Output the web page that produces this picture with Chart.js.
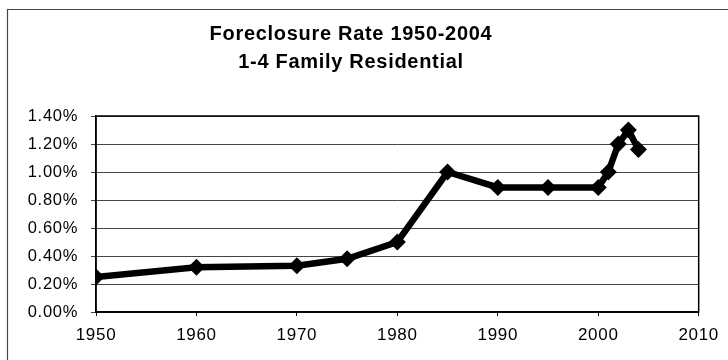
<!DOCTYPE html>
<html>
<head>
<meta charset="utf-8">
<script src="https://cdn.jsdelivr.net/npm/chart.js@4"></script>
<style>
  body { margin: 0; background: #fff; }
  canvas { display: block; }
</style>
</head>
<body>
<canvas id="foreclosureChart" width="728" height="360"></canvas>
<script>
// foreclosure rate, 1-4 family residential (percent)
const years = [1950, 1960, 1970, 1975, 1980, 1985, 1990, 1995, 2000, 2001, 2002, 2003, 2004];
const rates = [0.25, 0.32, 0.33, 0.38, 0.50, 1.00, 0.89, 0.89, 0.89, 1.00, 1.20, 1.30, 1.16];
const titleLines = ['Foreclosure Rate 1950-2004', '1-4 Family Residential'];

// spread the glyphs a little, the way the old spreadsheet export did
const spacing = {
    id: 'spacing',
    beforeLayout(chart) { chart.ctx.letterSpacing = '0.7px'; },
    beforeDraw(chart) { chart.ctx.letterSpacing = '0.7px'; }
};

// page frame + box round the plot
const frames = {
    id: 'frames',
    beforeDraw(chart) {
        const c = chart.ctx;
        c.save();
        c.strokeStyle = '#444';
        c.lineWidth = 1.2;
        c.beginPath();
        c.moveTo(7.5, 360);
        c.lineTo(7.5, 9.5);
        c.lineTo(728, 9.5);
        c.stroke();
        c.restore();
    },
    afterDatasetsDraw(chart) {
        const a = chart.chartArea;
        const c = chart.ctx;
        c.save();
        c.strokeStyle = '#000';
        c.lineWidth = 1.5;
        c.strokeRect(a.left, a.top, a.right - a.left, a.bottom - a.top);
        c.restore();
    }
};

const ctx = document.getElementById('foreclosureChart').getContext('2d');
const chart = new Chart(ctx, {
    type: 'line',
    data: {
        datasets: [{
            label: 'Foreclosure Rate',
            data: years.map((y, i) => ({ x: y, y: rates[i] })),
            borderColor: '#000',
            backgroundColor: '#000',
            borderWidth: 6.5,
            tension: 0,
            pointStyle: 'rectRot',
            pointRadius: 8.5,
            pointBorderWidth: 0,
            pointBackgroundColor: '#000'
        }]
    },
    options: {
        responsive: false,
        animation: false,
        layout: { padding: { left: 0, right: 26, top: 0, bottom: 0 } },
        plugins: {
            legend: { display: false },
            tooltip: { enabled: false },
            title: {
                display: true,
                text: titleLines,
                color: '#000',
                font: { family: 'Arial, "Liberation Sans"', size: 20, weight: 'bold', lineHeight: 1.4 },
                padding: { top: 20, bottom: 40 }
            }
        },
        scales: {
            x: {
                type: 'linear',
                min: 1950,
                max: 2010,
                ticks: {
                    stepSize: 10,
                    color: '#000',
                    padding: 9,
                    maxRotation: 0,
                    font: { family: 'Arial, "Liberation Sans"', size: 17 },
                    callback: v => String(v)
                },
                grid: { drawOnChartArea: false, drawTicks: true, tickLength: 4, color: '#000' },
                border: { display: true, color: '#000', width: 1.5 },
                afterFit(scale) { scale.height = 48; }
            },
            y: {
                min: 0,
                max: 1.4,
                ticks: {
                    stepSize: 0.2,
                    color: '#000',
                    padding: 13,
                    font: { family: 'Arial, "Liberation Sans"', size: 16.5 },
                    callback: v => v.toFixed(2) + '%'
                },
                grid: { color: '#444', lineWidth: 1, drawTicks: true, tickLength: 5 },
                border: { display: true, color: '#000', width: 1.5 },
                afterFit(scale) { scale.width = 96; }
            }
        }
    },
    plugins: [spacing, frames]
});
</script>
</body>
</html>
